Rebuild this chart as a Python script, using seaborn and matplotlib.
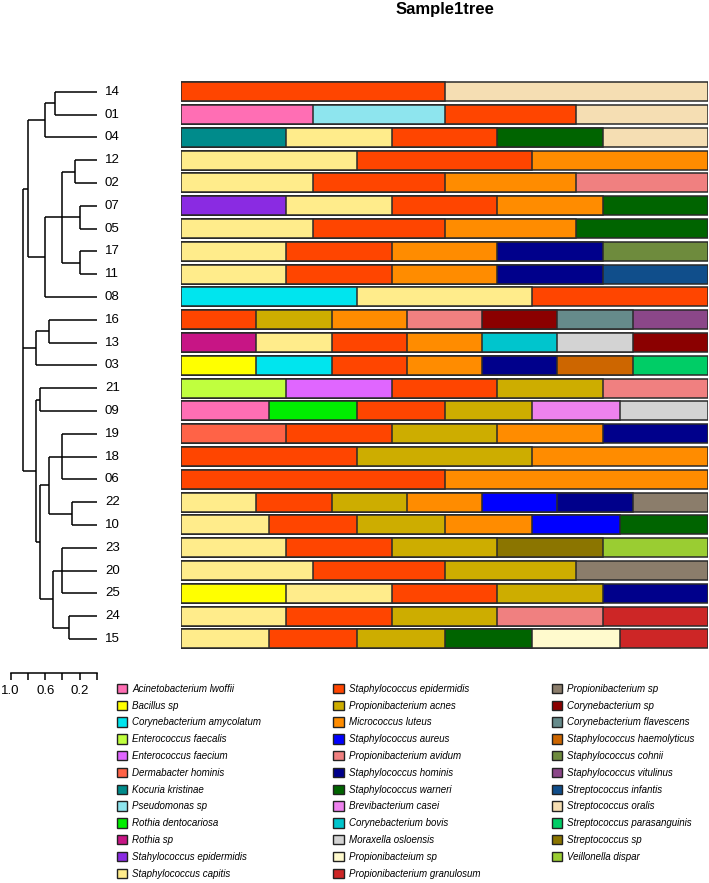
import numpy as np
import pandas as pd
import matplotlib
matplotlib.use("Agg")
import matplotlib.pyplot as plt
from matplotlib.patches import Patch
import seaborn as sns

# ---------------- data ----------------
leaves = ["14", "01", "04", "12", "02", "07", "05", "17", "11", "08", "16", "13", "03",
          "21", "09", "19", "18", "06", "22", "10", "23", "20", "25", "24", "15"]

species_col1 = ["Acinetobacterium lwoffii", "Bacillus sp", "Corynebacterium amycolatum",
                "Enterococcus faecalis", "Enterococcus faecium", "Dermabacter hominis",
                "Kocuria kristinae", "Pseudomonas sp", "Rothia dentocariosa", "Rothia sp",
                "Stahylococcus epidermidis", "Staphylococcus capitis"]
colors_col1 = ["#FF6EB4", "#FFFF00", "#00E5EE", "#C0FF3E", "#E066FF", "#FF6347",
               "#008B8B", "#8EE5EE", "#00EE00", "#C71585", "#8A2BE2", "#FFEC8B"]
species_col2 = ["Staphylococcus epidermidis", "Propionibacterium acnes", "Micrococcus luteus",
                "Staphylococcus aureus", "Propionibacterium avidum", "Staphylococcus hominis",
                "Staphylococcus warneri", "Brevibacterium casei", "Corynebacterium bovis",
                "Moraxella osloensis", "Propionibacteium sp", "Propionibacterium granulosum"]
colors_col2 = ["#FF4500", "#CDAD00", "#FF8C00", "#0000FF", "#F08080", "#00008B",
               "#006400", "#EE82EE", "#00C5CD", "#D3D3D3", "#FFFACD", "#CD2626"]
species_col3 = ["Propionibacterium sp", "Corynebacterium sp", "Corynebacterium flavescens",
                "Staphylococcus haemolyticus", "Staphylococcus cohnii", "Staphylococcus vitulinus",
                "Streptococcus infantis", "Streptococcus oralis", "Streptococcus parasanguinis",
                "Streptococcus sp", "Veillonella dispar"]
colors_col3 = ["#8B7D6B", "#8B0000", "#668B8B", "#CD6600", "#6E8B3D", "#8B4789",
               "#104E8B", "#F5DEB3", "#00CD66", "#8B7500", "#9ACD32"]

composition = {
    "14": ["Staphylococcus epidermidis", "Streptococcus oralis"],
    "01": ["Acinetobacterium lwoffii", "Pseudomonas sp", "Staphylococcus epidermidis", "Streptococcus oralis"],
    "04": ["Kocuria kristinae", "Staphylococcus capitis", "Staphylococcus epidermidis", "Staphylococcus warneri", "Streptococcus oralis"],
    "12": ["Staphylococcus capitis", "Staphylococcus epidermidis", "Micrococcus luteus"],
    "02": ["Staphylococcus capitis", "Staphylococcus epidermidis", "Micrococcus luteus", "Propionibacterium avidum"],
    "07": ["Stahylococcus epidermidis", "Staphylococcus capitis", "Staphylococcus epidermidis", "Micrococcus luteus", "Staphylococcus warneri"],
    "05": ["Staphylococcus capitis", "Staphylococcus epidermidis", "Micrococcus luteus", "Staphylococcus warneri"],
    "17": ["Staphylococcus capitis", "Staphylococcus epidermidis", "Micrococcus luteus", "Staphylococcus hominis", "Staphylococcus cohnii"],
    "11": ["Staphylococcus capitis", "Staphylococcus epidermidis", "Micrococcus luteus", "Staphylococcus hominis", "Streptococcus infantis"],
    "08": ["Corynebacterium amycolatum", "Staphylococcus capitis", "Staphylococcus epidermidis"],
    "16": ["Staphylococcus epidermidis", "Propionibacterium acnes", "Micrococcus luteus", "Propionibacterium avidum", "Corynebacterium sp", "Corynebacterium flavescens", "Staphylococcus vitulinus"],
    "13": ["Rothia sp", "Staphylococcus capitis", "Staphylococcus epidermidis", "Micrococcus luteus", "Corynebacterium bovis", "Moraxella osloensis", "Corynebacterium sp"],
    "03": ["Bacillus sp", "Corynebacterium amycolatum", "Staphylococcus epidermidis", "Micrococcus luteus", "Staphylococcus hominis", "Staphylococcus haemolyticus", "Streptococcus parasanguinis"],
    "21": ["Enterococcus faecalis", "Enterococcus faecium", "Staphylococcus epidermidis", "Propionibacterium acnes", "Propionibacterium avidum"],
    "09": ["Acinetobacterium lwoffii", "Rothia dentocariosa", "Staphylococcus epidermidis", "Propionibacterium acnes", "Brevibacterium casei", "Moraxella osloensis"],
    "19": ["Dermabacter hominis", "Staphylococcus epidermidis", "Propionibacterium acnes", "Micrococcus luteus", "Staphylococcus hominis"],
    "18": ["Staphylococcus epidermidis", "Propionibacterium acnes", "Micrococcus luteus"],
    "06": ["Staphylococcus epidermidis", "Micrococcus luteus"],
    "22": ["Staphylococcus capitis", "Staphylococcus epidermidis", "Propionibacterium acnes", "Micrococcus luteus", "Staphylococcus aureus", "Staphylococcus hominis", "Propionibacterium sp"],
    "10": ["Staphylococcus capitis", "Staphylococcus epidermidis", "Propionibacterium acnes", "Micrococcus luteus", "Staphylococcus aureus", "Staphylococcus warneri"],
    "23": ["Staphylococcus capitis", "Staphylococcus epidermidis", "Propionibacterium acnes", "Streptococcus sp", "Veillonella dispar"],
    "20": ["Staphylococcus capitis", "Staphylococcus epidermidis", "Propionibacterium acnes", "Propionibacterium sp"],
    "25": ["Bacillus sp", "Staphylococcus capitis", "Staphylococcus epidermidis", "Propionibacterium acnes", "Staphylococcus hominis"],
    "24": ["Staphylococcus capitis", "Staphylococcus epidermidis", "Propionibacterium acnes", "Propionibacterium avidum", "Propionibacterium granulosum"],
    "15": ["Staphylococcus capitis", "Staphylococcus epidermidis", "Propionibacterium acnes", "Staphylococcus warneri", "Propionibacteium sp", "Propionibacterium granulosum"],
}

# dendrogram merges: (node name, children, height)
merges = [
    ("m1", ["14", "01"], 0.49),
    ("m2", ["m1", "04"], 0.60),
    ("m3", ["12", "02"], 0.25),
    ("m4", ["07", "05"], 0.20),
    ("m5", ["17", "11"], 0.20),
    ("m6", ["m3", "m4", "m5"], 0.40),
    ("m7", ["m6", "08"], 0.60),
    ("m8", ["m2", "m7"], 0.80),
    ("m9", ["16", "13"], 0.56),
    ("m10", ["m9", "03"], 0.71),
    ("m11", ["21", "09"], 0.66),
    ("m12", ["19", "18", "06"], 0.40),
    ("m13", ["22", "10"], 0.29),
    ("m14", ["m12", "m13"], 0.56),
    ("m15", ["23", "20", "25"], 0.40),
    ("m16", ["24", "15"], 0.33),
    ("m17", ["m15", "m16"], 0.51),
    ("m18", ["m14", "m17"], 0.665),
    ("m19", ["m11", "m18"], 0.71),
    ("m20", ["m8", "m10", "m19"], 0.86),
]

scale_ticks = [1.0, 0.8, 0.6, 0.4, 0.2, 0.0]
scale_labels = ["1.0", "", "0.6", "", "0.2", ""]

# ---------------- figure ----------------
W, H = 709, 883
sns.set_style("white")
plt.rcParams["font.family"] = ["Liberation Sans", "DejaVu Sans"]
plt.rcParams["text.color"] = "black"
plt.rcParams["xtick.color"] = "black"
plt.rcParams["xtick.labelcolor"] = "black"

fig = plt.figure(figsize=(W / 100, H / 100), dpi=100)

def fx(px):
    return px / W

def fy(py):
    return 1 - py / H

row_sp = 22.8
y_first = 91.7
ax_top = y_first - 0.5 * row_sp
ax_bot = y_first + 24.5 * row_sp
zero_px = 97.0
px_per_unit = 86.3

# ---- bars ----
palette = dict(zip(species_col1 + species_col2 + species_col3,
                   colors_col1 + colors_col2 + colors_col3))
rows = []
for s in leaves:
    segs = composition[s]
    n = len(segs)
    for j, sp in enumerate(segs):
        rows.append({"sample": s, "species": sp, "pos": j, "right": (j + 1) / n})
df = pd.DataFrame(rows)

axb = fig.add_axes([fx(181), fy(ax_bot), fx(708) - fx(181), fy(ax_top) - fy(ax_bot)])
for j in sorted(df["pos"].unique(), reverse=True):
    sub = df[df["pos"] == j]
    sns.barplot(data=sub, x="right", y="sample", hue="species", order=leaves,
                palette=palette, saturation=1, dodge=False, orient="h", width=0.84,
                edgecolor="#2a2a2a", linewidth=1.1, errorbar=None, legend=False, ax=axb)
axb.set_xlim(0, 1)
axb.set_ylim(len(leaves) - 0.5, -0.5)
axb.set_axis_off()

# ---- dendrogram ----
axd = fig.add_axes([0, fy(ax_bot), fx(zero_px), fy(ax_top) - fy(ax_bot)])
pos_y = {s: i for i, s in enumerate(leaves)}
pos_h = {s: 0.0 for s in leaves}
for name, children, h in merges:
    ys = [pos_y[c] for c in children]
    axd.plot([h, h], [min(ys), max(ys)], color="black", lw=1.1, solid_capstyle="butt")
    for c in children:
        axd.plot([pos_h[c], h], [pos_y[c], pos_y[c]], color="black", lw=1.1,
                 solid_capstyle="butt")
    pos_y[name] = (min(ys) + max(ys)) / 2
    pos_h[name] = h
for s in leaves:
    axd.text(-(105 - zero_px) / px_per_unit, pos_y[s], s, ha="left", va="center",
             fontsize=9.5, color="black", clip_on=False)
axd.set_xlim(zero_px / px_per_unit, 0)
axd.set_ylim(len(leaves) - 0.5, -0.5)
axd.set_axis_off()

# ---- scale bar ----
x_one = zero_px - px_per_unit
axs = fig.add_axes([fx(x_one), fy(673), fx(zero_px) - fx(x_one), 0.0001])
axs.set_xlim(1.0, 0.0)
axs.set_yticks([])
for sp in ["top", "left", "right"]:
    axs.spines[sp].set_visible(False)
axs.spines["bottom"].set_linewidth(1.1)
axs.spines["bottom"].set_color("black")
axs.set_xticks(scale_ticks)
axs.set_xticklabels(scale_labels)
axs.tick_params(axis="x", direction="out", length=5, width=1.1, color="black",
                labelcolor="black", labelsize=9.5, pad=4, bottom=True)
axs.patch.set_visible(False)

# ---- title ----
fig.text(fx(444.5), fy(9.5), "Sample1tree", ha="center", va="center",
         fontsize=12, fontweight="bold", color="black")

# ---- legends ----
leg_prop = {"style": "italic", "size": 7, "family": "Liberation Sans"}
for names, cols, xpx in [(species_col1, colors_col1, 116.7),
                         (species_col2, colors_col2, 333.0),
                         (species_col3, colors_col3, 551.7)]:
    handles = [Patch(facecolor=c, edgecolor="#222222", linewidth=1.0, label=n)
               for n, c in zip(names, cols)]
    leg = fig.legend(handles=handles, loc="upper left", bbox_to_anchor=(fx(xpx), fy(683.8)),
                     bbox_transform=fig.transFigure, frameon=False, borderpad=0,
                     borderaxespad=0, handlelength=1.1, handleheight=1.1,
                     handletextpad=0.5, labelspacing=0.70, prop=leg_prop)
    for t in leg.get_texts():
        t.set_color("black")

fig.savefig("out.png", dpi=100)
